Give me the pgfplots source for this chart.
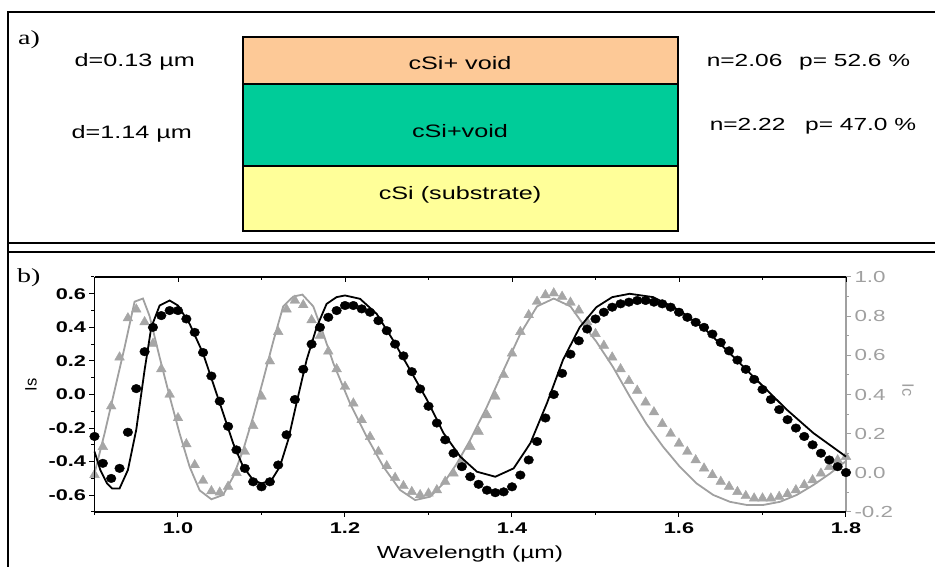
\documentclass[border=0pt]{standalone}
\usepackage{fontspec}
\usepackage{pgfplots}
\pgfplotsset{compat=1.18}
\setmainfont{Liberation Sans}
\newfontfamily\sx[FakeStretch=1.4]{Liberation Sans}
\newfontfamily\rx[FakeStretch=1.4]{Liberation Serif}
\definecolor{orangeL}{HTML}{FDC997}
\definecolor{greenL}{HTML}{00CC99}
\definecolor{yellowL}{HTML}{FFFF99}
\definecolor{grayL}{HTML}{A0A0A0}
\definecolor{grayM}{HTML}{A6A6A6}

\pgfplotsset{
  base/.style={
    at={(94.5pt,55pt)}, anchor=south west, scale only axis,
    width=751.5pt, height=235pt, xmin=0.9, xmax=1.8,
    major tick length=5pt, minor tick length=3pt,
    /pgf/number format/.cd, fixed, fixed zerofill, precision=1, assume math mode=true,
  },
}

\begin{document}
\begin{tikzpicture}
\begin{scope}[x=1pt,y=1pt]
\useasboundingbox (0,0) rectangle (935,567);
\draw[line width=1.7pt] (8,-5) -- (8,555) -- (940,555);
\draw[line width=1.7pt] (8,324) -- (940,324);
\draw[line width=1.7pt] (8,315) -- (940,315);
\draw[line width=1.2pt, fill=orangeL] (243,483) rectangle (678,530);
\draw[line width=1.2pt, fill=greenL] (243,401) rectangle (678,483);
\draw[line width=1.2pt, fill=yellowL] (243,336) rectangle (678,401);
\node[anchor=west, inner sep=0] at (18,527) {\rx\fontsize{20}{20}\selectfont a)};
\node[anchor=west, inner sep=0] at (17,289) {\rx\fontsize{20}{20}\selectfont b)};
\node[anchor=base west, inner sep=0] at (74.5,500.3) {\sx\fontsize{18}{18}\selectfont d=0.13 µm};
\node[anchor=base west, inner sep=0] at (71.5,428.7) {\sx\fontsize{18}{18}\selectfont d=1.14 µm};
\node[anchor=base, inner sep=0] at (460,497) {\sx\fontsize{18}{18}\selectfont cSi+ void};
\node[anchor=base, inner sep=0] at (460,429.7) {\sx\fontsize{18}{18}\selectfont cSi+void};
\node[anchor=base, inner sep=0] at (460,367.7) {\sx\fontsize{18}{18}\selectfont cSi (substrate)};
\node[anchor=base west, inner sep=0] at (706.6,500.3) {\sx\fontsize{17.5}{18}\selectfont n=2.06};
\node[anchor=base west, inner sep=0] at (799,500.3) {\sx\fontsize{17.5}{18}\selectfont p= 52.6 \%};
\node[anchor=base west, inner sep=0] at (709.6,436) {\sx\fontsize{17.5}{18}\selectfont n=2.22};
\node[anchor=base west, inner sep=0] at (805,436) {\sx\fontsize{17.5}{18}\selectfont p= 47.0 \%};
\node[rotate=90, inner sep=0] at (31,182) {\fontsize{16.5}{16}\selectfont Is};
\node[rotate=-90, inner sep=0, text=grayL] at (908,177) {\fontsize{16.5}{16}\selectfont Ic};
\node[inner sep=0] at (470,13) {\sx\fontsize{17.5}{18}\selectfont Wavelength (µm)};
\end{scope}

% right axis (Ic)
\begin{axis}[base,
  ymin=-0.2, ymax=1.0,
  axis x line=none, axis y line*=right,
  tick align=outside,
  ytick={-0.2,0,0.2,0.4,0.6,0.8,1.0},
  minor ytick={-0.1,0.1,0.3,0.5,0.7,0.9},
  y axis line style={grayL, line width=1.2pt},
  every tick/.style={grayL, line width=1pt},
  every minor tick/.style={grayL, line width=1pt},
  yticklabel style={text=grayL, font=\sx\fontsize{16}{16}\selectfont, xshift=0pt},
  clip=false,
]
\addplot[grayL, line width=1.8pt] coordinates {
(0.900,-0.003) (0.912,0.20) (0.924,0.42) (0.936,0.64) (0.948,0.874) (0.958,0.89)
(0.966,0.80) (0.978,0.59) (0.990,0.39) (1.002,0.20) (1.014,0.03) (1.026,-0.09)
(1.040,-0.135) (1.054,-0.113) (1.066,-0.02) (1.078,0.116) (1.090,0.286) (1.102,0.474)
(1.114,0.67) (1.126,0.85) (1.138,0.90) (1.149,0.91) (1.162,0.85) (1.174,0.71)
(1.186,0.56) (1.206,0.355) (1.226,0.184) (1.246,0.031) (1.266,-0.088) (1.284,-0.139)
(1.302,-0.122) (1.318,-0.054) (1.334,0.048) (1.350,0.168) (1.370,0.338) (1.390,0.525)
(1.410,0.71) (1.430,0.85) (1.450,0.89) (1.470,0.85) (1.490,0.73) (1.501,0.67)
(1.521,0.54) (1.541,0.39) (1.561,0.25) (1.581,0.133) (1.601,0.031) (1.621,-0.054)
(1.641,-0.113) (1.661,-0.148) (1.681,-0.164) (1.701,-0.164) (1.721,-0.148) (1.741,-0.113)
(1.761,-0.062) (1.781,-0.003) (1.800,0.06)
};
\addplot[only marks, mark=triangle*, mark size=5.6pt, color=grayM, mark options={fill=grayM, draw=grayM}] coordinates {
(0.90,-0.01) (0.91,0.133) (0.92,0.34) (0.93,0.59) (0.94,0.79) (0.95,0.835) (0.96,0.77)
(0.97,0.66) (0.98,0.53) (0.99,0.40) (1.00,0.28) (1.01,0.147) (1.02,0.04) (1.03,-0.04)
(1.04,-0.093) (1.05,-0.10) (1.06,-0.07) (1.07,0.0) (1.08,0.108) (1.09,0.24) (1.10,0.39)
(1.11,0.57) (1.12,0.72) (1.13,0.835) (1.14,0.88) (1.15,0.857) (1.16,0.78) (1.17,0.70)
(1.18,0.62) (1.19,0.53) (1.20,0.44) (1.21,0.355) (1.22,0.27) (1.23,0.184) (1.24,0.108)
(1.25,0.035) (1.26,-0.025) (1.27,-0.067) (1.28,-0.097) (1.29,-0.113) (1.30,-0.105)
(1.31,-0.088) (1.32,-0.045) (1.33,-0.003) (1.34,0.057) (1.35,0.133) (1.36,0.21)
(1.37,0.295) (1.38,0.39) (1.39,0.50) (1.40,0.61) (1.41,0.72) (1.42,0.806) (1.43,0.874)
(1.44,0.908) (1.45,0.917) (1.46,0.90) (1.47,0.87) (1.48,0.83) (1.49,0.77) (1.50,0.71)
(1.51,0.65) (1.52,0.59) (1.53,0.53) (1.54,0.47) (1.55,0.42) (1.56,0.36) (1.57,0.31)
(1.58,0.25) (1.59,0.20) (1.60,0.15) (1.61,0.108) (1.62,0.065) (1.63,0.023) (1.64,-0.011)
(1.65,-0.045) (1.66,-0.07) (1.67,-0.097) (1.68,-0.118) (1.69,-0.13) (1.70,-0.13)
(1.71,-0.13) (1.72,-0.122) (1.73,-0.108) (1.74,-0.088) (1.75,-0.062) (1.76,-0.037)
(1.77,-0.003) (1.78,0.031) (1.79,0.065) (1.80,0.082)
};
\end{axis}

% left axis (Is)
\begin{axis}[base,
  ymin=-0.7, ymax=0.7,
  axis x line*=bottom, axis y line*=left,
  tick align=outside,
  xtick={1.0,1.2,1.4,1.6,1.8},
  minor xtick={0.9,1.1,1.3,1.5,1.7},
  ytick={-0.6,-0.4,-0.2,0,0.2,0.4,0.6},
  minor ytick={-0.7,-0.5,-0.3,-0.1,0.1,0.3,0.5,0.7},
  axis line style={black, line width=1.2pt},
  every tick/.style={black, line width=1pt},
  every minor tick/.style={black, line width=1pt},
  ticklabel style={font=\sx\bfseries\fontsize{15.5}{15}\selectfont},
  xticklabel style={yshift=-2pt},
  clip=false,
]
\addplot[black, line width=1.8pt] coordinates {
(0.900,-0.34) (0.907,-0.45) (0.915,-0.53) (0.921,-0.56) (0.930,-0.56) (0.940,-0.45)
(0.950,-0.21) (0.960,0.146) (0.968,0.40) (0.978,0.53) (0.990,0.56) (1.000,0.53)
(1.014,0.42) (1.030,0.245) (1.042,0.067) (1.054,-0.11) (1.066,-0.29) (1.078,-0.43)
(1.090,-0.51) (1.100,-0.53) (1.112,-0.51) (1.122,-0.43) (1.132,-0.27) (1.142,-0.05)
(1.154,0.205) (1.166,0.40) (1.178,0.54) (1.190,0.58) (1.200,0.59) (1.218,0.57)
(1.238,0.48) (1.258,0.32) (1.278,0.146) (1.298,-0.03) (1.318,-0.23) (1.338,-0.37)
(1.358,-0.46) (1.380,-0.49) (1.402,-0.44) (1.422,-0.29) (1.442,-0.05) (1.461,0.205)
(1.481,0.40) (1.501,0.52) (1.520,0.58) (1.541,0.60) (1.569,0.58) (1.601,0.50)
(1.633,0.38) (1.665,0.225) (1.697,0.067) (1.729,-0.09) (1.761,-0.23) (1.800,-0.37)
};
\addplot[only marks, mark=*, mark size=4.3pt, mark options={xscale=1.12, fill=black, draw=black}] coordinates {
(0.90,-0.25) (0.91,-0.41) (0.92,-0.50) (0.93,-0.44) (0.94,-0.225) (0.95,0.035) (0.96,0.255)
(0.97,0.40) (0.98,0.47) (0.99,0.50) (1.00,0.50) (1.01,0.45) (1.02,0.37) (1.03,0.25)
(1.04,0.11) (1.05,-0.04) (1.06,-0.19) (1.07,-0.33) (1.08,-0.44) (1.09,-0.52) (1.10,-0.55)
(1.11,-0.52) (1.12,-0.42) (1.13,-0.24) (1.14,-0.03) (1.15,0.15) (1.16,0.30) (1.17,0.40)
(1.18,0.46) (1.19,0.50) (1.20,0.53) (1.21,0.53) (1.22,0.51) (1.23,0.49) (1.24,0.44)
(1.25,0.38) (1.26,0.30) (1.27,0.23) (1.28,0.136) (1.29,0.033) (1.30,-0.07) (1.31,-0.17)
(1.32,-0.27) (1.33,-0.35) (1.34,-0.43) (1.35,-0.49) (1.36,-0.535) (1.37,-0.57) (1.38,-0.585)
(1.39,-0.58) (1.40,-0.55) (1.41,-0.48) (1.42,-0.39) (1.43,-0.28) (1.44,-0.14) (1.45,0.0)
(1.46,0.126) (1.47,0.24) (1.48,0.32) (1.49,0.39) (1.50,0.45) (1.51,0.49) (1.52,0.52)
(1.53,0.54) (1.54,0.55) (1.55,0.56) (1.56,0.56) (1.57,0.55) (1.58,0.54) (1.59,0.52)
(1.60,0.49) (1.61,0.46) (1.62,0.43) (1.63,0.40) (1.64,0.36) (1.65,0.31) (1.66,0.26)
(1.67,0.205) (1.68,0.15) (1.69,0.09) (1.70,0.03) (1.71,-0.03) (1.72,-0.09) (1.73,-0.15)
(1.74,-0.20) (1.75,-0.25) (1.76,-0.30) (1.77,-0.35) (1.78,-0.39) (1.79,-0.43) (1.80,-0.465)
};
\end{axis}

% top axis ticks (inward)
\begin{axis}[base,
  ymin=-0.7, ymax=0.7,
  axis x line*=top, axis y line=none,
  tick align=inside,
  xtick={1.0,1.2,1.4,1.6,1.8},
  minor xtick={1.1,1.3,1.5,1.7},
  xticklabels={},
  axis line style={black, line width=1.2pt},
  every tick/.style={black, line width=1pt},
  every minor tick/.style={black, line width=1pt},
]
\end{axis}
\end{tikzpicture}
\end{document}
